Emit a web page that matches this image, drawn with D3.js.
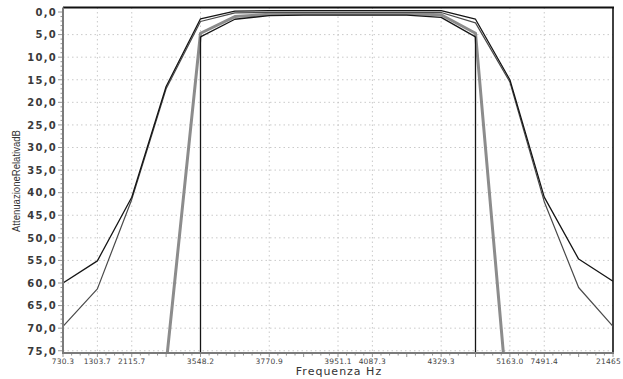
<!DOCTYPE html>
<html>
<head>
<meta charset="utf-8">
<script src="https://cdn.jsdelivr.net/npm/d3@7"></script>
<style>
  html, body { margin: 0; padding: 0; background: #fff; }
  svg { display: block; }
</style>
</head>
<body>
<svg id="chart" width="623" height="379"></svg>
<script>
// Measurement points (equally spaced by index); blank entries have no label
const freqLabels = ["730.3", "1303.7", "2115.7", "", "3548.2", "", "3770.9", "", "3951.1",
                    "4087.3", "", "4329.3", "", "5163.0", "7491.4", "", "21465"];

// Relative attenuation in dB (null = below the measurement floor)
const outerBlack = [60.0, 55.1, 41.0, 16.5, 1.5, -0.2, -0.3, -0.3, -0.3, -0.3, -0.3, -0.3, 1.6, 15.0, 41.0, 54.7, 59.6];
const outerGray  = [69.6, 61.3, 41.5, 17.0, 2.1, 0.2, 0.1, 0.1, 0.1, 0.1, 0.1, 0.1, 2.4, 15.5, 42.0, 61.0, 69.6];
const innerGray  = [null, null, null, 78.0, 4.7, 1.0, 0.5, 0.4, 0.4, 0.4, 0.4, 0.6, 4.7, 92.0, null, null, null];
const innerBlack = [null, null, null, null, 5.5, 1.6, 0.8, 0.7, 0.7, 0.7, 0.7, 1.2, 5.5, null, null, null, null];

const yTicks = d3.range(0, 76, 5);

const svg = d3.select("#chart");
const W = 623;
const L = 63, R = 613, T = 7.5, B = 353;

const x = d3.scalePoint().domain(d3.range(freqLabels.length)).range([L, R]);
const y = d3.scaleLinear().domain([-1, 75.5]).range([T, B]);

svg.append("defs").append("clipPath").attr("id", "plotClip")
  .append("rect").attr("x", L).attr("y", T).attr("width", R - L).attr("height", B - T);

// Grid
const grid = svg.append("g").attr("stroke", "#bdbdbd").attr("stroke-width", 0.8)
  .attr("stroke-dasharray", "1.5,3");
grid.selectAll("line.h").data(yTicks.filter(v => v > 0)).join("line")
  .attr("x1", L).attr("x2", R).attr("y1", d => y(d)).attr("y2", d => y(d));
grid.selectAll("line.v").data(freqLabels.map((s, i) => s ? i : null).filter(i => i !== null && i > 0 && i < freqLabels.length - 1))
  .join("line")
  .attr("x1", d => x(d)).attr("x2", d => x(d)).attr("y1", T).attr("y2", B);

// Frame: top and right borders
svg.append("line").attr("x1", L).attr("x2", R + 1).attr("y1", T).attr("y2", T)
  .attr("stroke", "#111").attr("stroke-width", 2);
svg.append("line").attr("x1", R).attr("x2", R).attr("y1", T).attr("y2", B)
  .attr("stroke", "#111").attr("stroke-width", 1.6);

// Series
const plot = svg.append("g").attr("clip-path", "url(#plotClip)");
const line = d3.line()
  .defined(d => d.v !== null)
  .x(d => x(d.i))
  .y(d => y(d.v));
const toPts = arr => arr.map((v, i) => ({ i, v }));

function drawSeries(arr, color, width, dropToFloor) {
  const pts = toPts(arr);
  plot.append("path").datum(pts).attr("d", line)
    .attr("fill", "none").attr("stroke", color).attr("stroke-width", width)
    .attr("stroke-linejoin", "round");
  if (dropToFloor) {
    // Off-scale neighbours: drop straight to the bottom of the plot
    const drops = pts.filter((p, k) => p.v !== null &&
      ((k > 0 && pts[k - 1].v === null) || (k < pts.length - 1 && pts[k + 1].v === null)));
    plot.selectAll(null).data(drops).join("line")
      .attr("x1", d => x(d.i)).attr("x2", d => x(d.i))
      .attr("y1", d => y(d.v)).attr("y2", B)
      .attr("stroke", color).attr("stroke-width", width);
  }
}

drawSeries(innerGray, "#8c8c8c", 3, false);
drawSeries(outerGray, "#4a4a4a", 1.2, false);
drawSeries(outerBlack, "#151515", 1.3, false);
drawSeries(innerBlack, "#151515", 1.3, true);

// Left axis
const axisColor = "#7a7a7a";
svg.append("line").attr("x1", L).attr("x2", L).attr("y1", T).attr("y2", B + 1)
  .attr("stroke", axisColor).attr("stroke-width", 2);
svg.append("g").selectAll("line").data(d3.range(0, 76, 1)).join("line")
  .attr("x1", d => d % 5 === 0 ? L - 5 : L - 2.5).attr("x2", L)
  .attr("y1", d => y(d)).attr("y2", d => y(d))
  .attr("stroke", axisColor).attr("stroke-width", 0.8);
svg.append("g").selectAll("text").data(yTicks).join("text")
  .attr("x", 57).attr("y", d => y(d) + 3.8)
  .attr("text-anchor", "end")
  .attr("font-family", "DejaVu Sans, sans-serif")
  .attr("font-size", 10).attr("font-weight", "bold")
  .attr("letter-spacing", 1.3)
  .attr("fill", "#3a3a3a")
  .text(d => d.toFixed(1).replace(".", ","));

// Bottom axis
svg.append("line").attr("x1", L - 1).attr("x2", R + 1).attr("y1", B).attr("y2", B)
  .attr("stroke", axisColor).attr("stroke-width", 2);
const minor = d3.range(0, (freqLabels.length - 1) * 4 + 1).map(k => k / 4);
svg.append("g").selectAll("line").data(minor).join("line")
  .attr("x1", d => L + d * x.step()).attr("x2", d => L + d * x.step())
  .attr("y1", B).attr("y2", d => Number.isInteger(d) ? B + 4 : B + 2.5)
  .attr("stroke", axisColor).attr("stroke-width", 0.8);
const xLabels = svg.append("g").selectAll("text")
  .data(freqLabels.map((s, i) => ({ s, i })).filter(d => d.s)).join("text")
  .attr("x", d => x(d.i)).attr("y", 364)
  .attr("text-anchor", "middle")
  .attr("font-family", "DejaVu Sans, sans-serif")
  .attr("font-size", 7.5)
  .attr("letter-spacing", 0.2)
  .attr("fill", "#444")
  .text(d => d.s);
// Keep edge labels inside the canvas
xLabels.each(function () {
  const bb = this.getBBox();
  const over = bb.x + bb.width - (W - 2);
  if (over > 0) d3.select(this).attr("x", +d3.select(this).attr("x") - over);
});

// Axis titles
svg.append("text")
  .attr("x", 339).attr("y", 375)
  .attr("text-anchor", "middle")
  .attr("font-family", "DejaVu Sans, sans-serif")
  .attr("font-size", 11).attr("letter-spacing", 1)
  .attr("fill", "#333")
  .text("Frequenza Hz");

svg.append("text")
  .attr("transform", "translate(20,181) rotate(-90)")
  .attr("text-anchor", "middle")
  .attr("font-family", "Liberation Sans, Arial, sans-serif")
  .attr("font-size", 10)
  .attr("textLength", 102).attr("lengthAdjust", "spacingAndGlyphs")
  .attr("fill", "#333")
  .text("AttenuazioneRelativadB");
</script>
</body>
</html>
